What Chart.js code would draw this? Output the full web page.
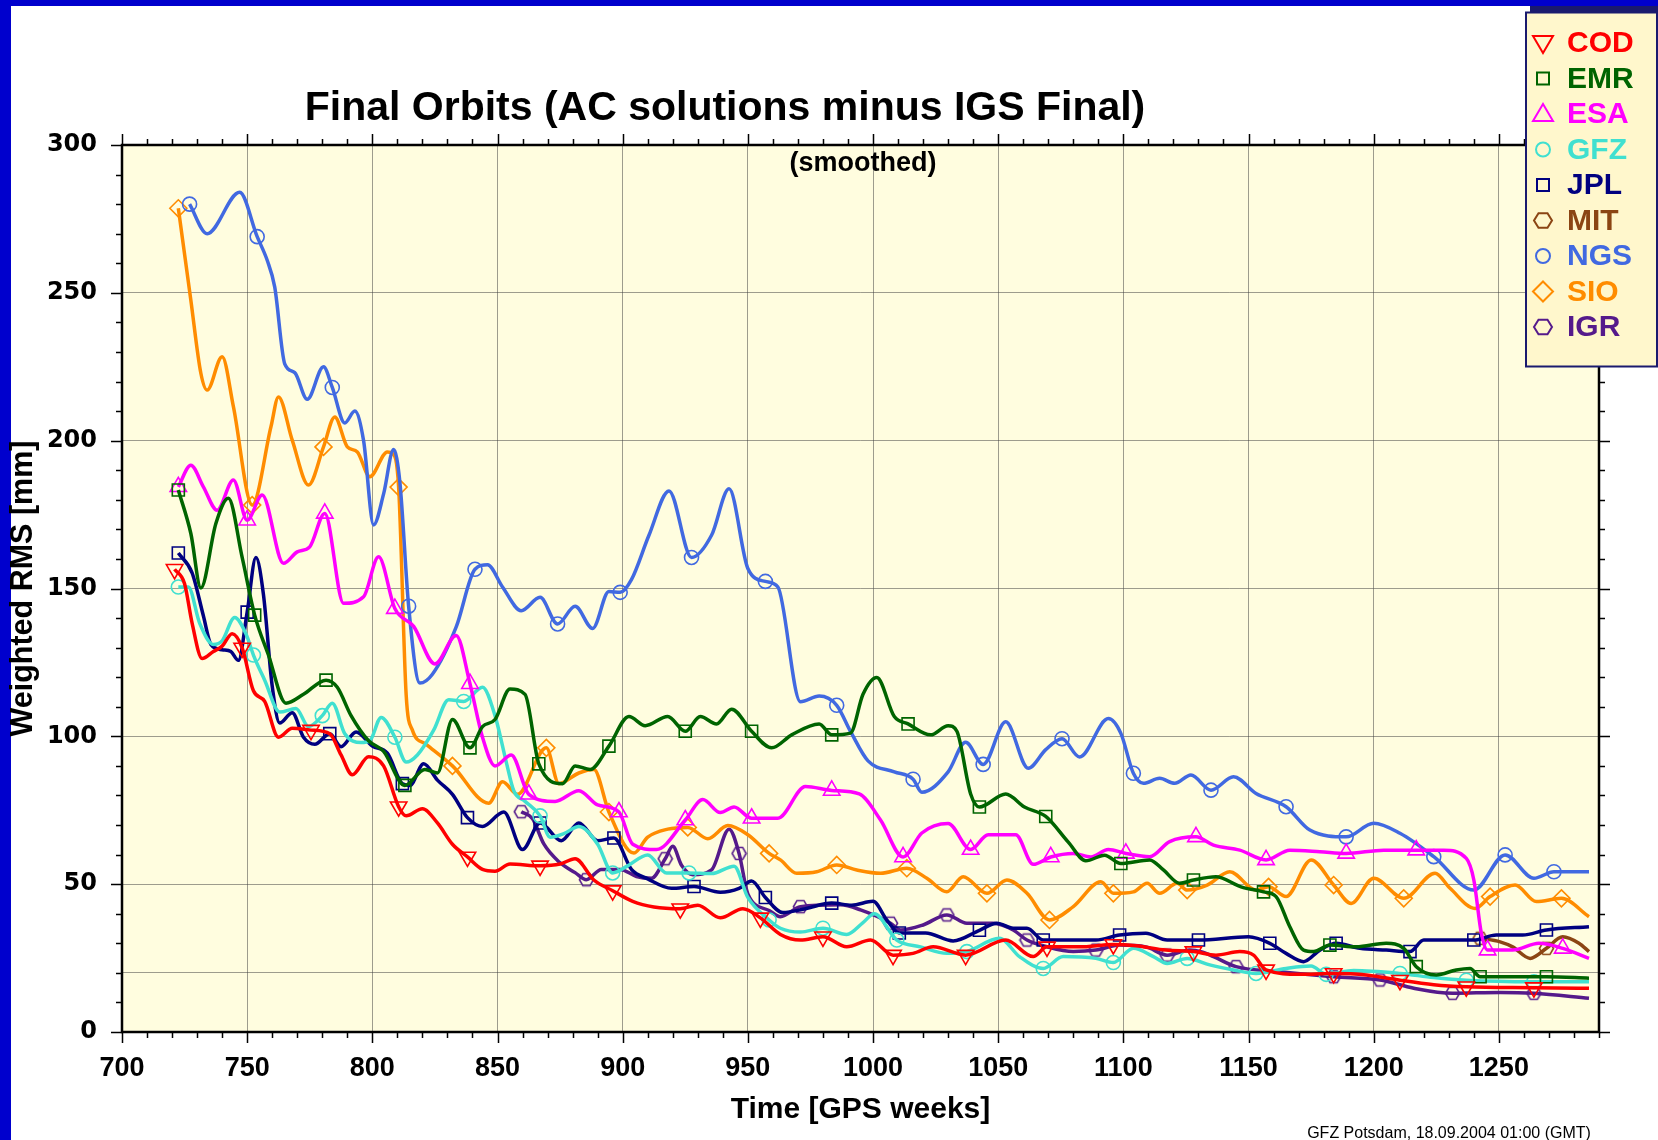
<!DOCTYPE html>
<html>
<head>
<meta charset="utf-8">
<title>Final Orbits (AC solutions minus IGS Final)</title>
<script src="https://cdn.jsdelivr.net/npm/chart.js@4.4.1/dist/chart.umd.min.js"></script>
<style>
html,body{margin:0;padding:0;background:#ffffff;overflow:hidden;}
#wrap{position:relative;width:1658px;height:1140px;}
</style>
</head>
<body>
<div id="wrap"><canvas id="chart"></canvas></div>
<script>
// ---- data: [GPS week, weighted RMS (mm)] ----
const COD = [[721,156.5],[725,151.6],[728,138.3],[732,126.3],[736.5,128.7],[740,130.5],[744,134.7],[748,129.9],[752.5,115.4],[757,111.8],[762.5,99.7],[768,102.7],[775.5,102.1],[783,100.9],[787.5,93.7],[792,87],[798.5,93.1],[804.5,90],[810.5,76.2],[813.5,73.1],[820,75.5],[826,70.7],[832,63.5],[838,59.2],[844,55],[849,54.4],[855,56.8],[867,56.2],[875,56.8],[881,58.6],[888.5,51.4],[896,47.8],[904,44.2],[912.5,42.3],[923,41.7],[930,42.9],[939,38.6],[948,41.7],[955,38.6],[963,33],[971,31.1],[980,32.2],[989.5,28.8],[999,31.1],[1008,26],[1016,26.6],[1024,28.8],[1037,26],[1053,31.1],[1064,25.5],[1069.5,28.8],[1082.5,28.8],[1096,29.6],[1105,29.2],[1117,27.7],[1128,27.2],[1137,26],[1146.5,27.2],[1152,26],[1157,21],[1170.5,19.5],[1184,19.8],[1197,19.3],[1210.5,17.5],[1224,16],[1237,15.3],[1264,15],[1286,14.8]];
const EMR = [[722.5,183.3],[727.5,168.6],[731.5,150.2],[737.5,172],[742.5,180.5],[748,160.5],[753,141],[758.5,127.5],[765.5,111.2],[772.5,114.2],[781.5,119],[786,116.6],[791.5,107],[798.5,98.5],[804.5,94.9],[813,83.4],[821,88.8],[826,87.6],[832,105.7],[839,96.1],[844,103.3],[849,105.7],[855,116],[861,114.2],[866.5,90.7],[876,84],[881,90],[887,88.8],[894.5,96.7],[902.5,106.7],[909,103.6],[918,106.7],[925,101.7],[931,106.7],[937.5,104.2],[943.5,109.2],[951.5,101.7],[959.5,96.1],[967.5,100.5],[978.5,104.2],[983.5,100.5],[991,101.1],[996,114.2],[1001.5,119.9],[1008.5,106.7],[1014,104.2],[1023,100.5],[1030,103.6],[1033.5,101.7],[1039,80.5],[1042.5,76.1],[1053,80.5],[1060.5,76.1],[1069,72.9],[1078,64.2],[1085,57.9],[1092.5,59.8],[1099,57],[1110.5,58.2],[1116,54.8],[1122.5,50.3],[1128,51.4],[1137,52.5],[1147,49.1],[1156,47.4],[1161,45.8],[1166.5,35.6],[1172,27.7],[1176,27.2],[1182.5,29.4],[1193,28.8],[1205,30],[1212,28.3],[1217,22.1],[1225,19.3],[1233,21],[1238.5,21.5],[1242.5,18.7],[1257,18.7],[1269,18.7],[1286,18.2]];
const ESA = [[722.5,184.4],[727.5,191.7],[732.5,184.4],[738,176.5],[744.5,186.7],[750,173.1],[756,181.6],[764.5,158.5],[770,162.4],[775,164.1],[781,175.4],[788.5,145],[796.5,147.2],[802.5,160.7],[809,143.2],[816.5,137.2],[825,124.5],[833.5,134.1],[839,117.8],[844,99.7],[849,90],[855.5,93.7],[862.5,80.4],[873,78],[882.5,81.6],[890,76.8],[898.5,74.4],[904,63.5],[913.5,61.7],[925,71.7],[932,78.6],[939,74.2],[944.5,76.1],[951.5,72.3],[962,72.3],[973,83],[983.5,81.7],[994.5,80.5],[1003,71.7],[1012,59.2],[1019.5,67.3],[1030,70.5],[1039,61.7],[1046,66.7],[1057,66.7],[1064,56.7],[1071,59.2],[1080,60.4],[1087,59.2],[1094,61.7],[1101,60.4],[1110.5,59.3],[1118.5,64.4],[1129,66],[1136,63.2],[1146.5,61.5],[1157,58.2],[1166.5,61.5],[1178.5,61],[1189,60.4],[1204,61.5],[1217,61.5],[1228,61.5],[1237,58.7],[1240,51.4],[1243,33.4],[1245.5,27.7],[1255.5,27.7],[1266,30],[1275.5,28.3],[1286,24.9]];
const GFZ = [[722.5,150.5],[726.5,150.5],[731,138.3],[736.5,131.1],[740,132.3],[745,140.2],[749.5,134.7],[752.5,127.5],[757,119],[763,108.2],[769.5,109.4],[774.5,103.3],[780,107],[784,111.2],[789,100.9],[795.5,97.9],[799,98.5],[803.5,106.4],[809,99.7],[813.5,91.3],[818,93.7],[824.5,102.1],[830.5,112.4],[836.5,111.8],[844,116.6],[849,107],[853.5,91.3],[856.5,81.6],[861,78],[867,73.1],[871,65.9],[876.5,67.1],[882.5,69.5],[890,63.5],[896,53.8],[902,56.2],[910,59.9],[917.5,53.8],[926.5,53.8],[935.5,53.6],[944.5,56.1],[950,45.5],[958.5,37.9],[963,35.1],[971,33.8],[980,35.1],[989.5,33],[996,37],[1000.5,40],[1009.5,31.1],[1019,28.8],[1029.5,26.6],[1037.5,27.2],[1050.5,31.7],[1058.5,25.5],[1068,21.5],[1076,25.5],[1089,24.9],[1096,23.5],[1104,28.3],[1112,25.5],[1117.5,23.2],[1125.5,24.9],[1134.5,22.7],[1144,21],[1153,19.8],[1165,21.5],[1175,22.3],[1181,19.5],[1192,20.8],[1210.5,19.8],[1224,18.4],[1237,17.5],[1264,17],[1286,17]];
const JPL = [[722.5,162],[728,155.3],[732.5,140.8],[735.5,131.1],[740,129.3],[743.5,128.7],[746.5,125.7],[750,142],[753.5,160.5],[756.5,148],[760,117],[763,104.5],[768,108],[772.5,99.7],[777,97.3],[783,100.9],[787.5,96.5],[793.5,101.5],[800,96.7],[806,94.3],[812,84],[815,83.4],[820.5,90.7],[826,85.2],[832,80.4],[838,72.5],[844,69.5],[852.5,74.4],[860,61.7],[867,70.7],[875.5,64.7],[882.5,70.7],[890,64.7],[896.5,65.6],[903.5,55],[910,51.8],[919.5,48.6],[928.5,49.2],[939,47.3],[946.5,48.6],[951.5,51.1],[957,45.5],[964,40.4],[973,41.7],[983.5,43.6],[991.5,42.9],[1000,44.2],[1005.5,37.9],[1010.5,33.5],[1021,33.5],[1032,30.8],[1042.5,34.4],[1049.5,36.8],[1056,35.1],[1061.5,35.1],[1068,31.1],[1080,31.1],[1089,31.1],[1098.5,32.8],[1109,33.4],[1117.5,31.1],[1130,31.1],[1150,32.2],[1158.5,30],[1165,26.6],[1172,23.8],[1178.5,27.7],[1185,30],[1194.5,28.3],[1205,27.7],[1214.5,27.2],[1220,31.1],[1229,31.1],[1240,31.1],[1249,32.8],[1259.5,32.8],[1269,34.5],[1286,35.6]];
const MIT = [[1242.5,31.7],[1250.5,30.5],[1255.5,28.8],[1262.5,24.9],[1269,28.3],[1275.5,32.2],[1282,30],[1286,27.2]];
const NGS = [[727,280],[734,270],[747,284],[754,269],[758,261],[761,252],[765,226],[769,223],[774,214],[780.5,225],[784,218],[789,206],[793,210],[796.5,200],[800.5,171.5],[804.5,182],[808.5,197],[811,186],[814.5,144],[819,118],[824,121],[833.5,137],[841,156.5],[846,158],[852,150.5],[859.5,142.5],[867,147],[874,138],[881,144],[888,136.5],[894.5,149],[899,148.7],[903.5,153],[910.5,168],[918.5,183],[927.5,160.5],[935.5,168],[942.5,183.7],[950,156.8],[957,152.4],[962,150.5],[971,111.7],[978.5,113.6],[985.5,110.5],[991,101.7],[998,91.7],[1008.5,88],[1016,85.5],[1019.5,81.1],[1030,88],[1037,98],[1044,90.5],[1053,104.9],[1062,89.2],[1069,95.5],[1075.5,99.2],[1082.5,93],[1094,106],[1099,101],[1104,87.5],[1108,84.1],[1114.5,85.8],[1120.5,84.1],[1127,86.9],[1135,81.8],[1144,86.3],[1153,80.7],[1165,76.2],[1174.5,68.3],[1189,66],[1200,70.6],[1210.5,67.2],[1224,59.3],[1240,48],[1252.5,59.9],[1264,52],[1272,54.2],[1286,54.2]];
const SIO = [[722.5,278.6],[727.5,247.5],[731.5,222.8],[734,217.1],[740,228.4],[744.5,211.5],[752,178.2],[759.5,204.7],[762.5,214.8],[768,200.2],[774.5,185],[780.5,197.9],[785,208],[790,197.9],[794,196.2],[799,187.8],[806,196.2],[808,195.7],[810.5,184.3],[813.5,114.2],[816,102.1],[821.5,97.3],[832,90],[846.5,77.4],[852,84.6],[858,80.4],[869.5,96.1],[874.5,84],[882.5,87.6],[888.5,88.8],[894.5,74.4],[904.5,60.5],[910,65.9],[918,68.6],[926,69.2],[934,65.4],[942,69.8],[950,66.7],[958.5,60.4],[963,58.2],[969.5,53.7],[977.5,54.2],[985.5,56.5],[993.5,54.8],[1003,53.7],[1013.5,55.4],[1021.5,52],[1029.5,47.4],[1036,52.5],[1045.5,46.9],[1053.5,51.4],[1061.5,46.9],[1070.5,37.9],[1080,42.4],[1091,50.8],[1096,46.9],[1104,47.4],[1109.5,50.3],[1114.5,46.9],[1121.5,50.3],[1125.5,48],[1133.5,49.7],[1142.5,54.2],[1153,48],[1158,49.1],[1165,45.8],[1175,58.2],[1184,49.7],[1191,43.5],[1200,52],[1212,45.2],[1224.5,53.7],[1230.5,48.6],[1240.5,41.8],[1246.5,45.8],[1256.5,49.7],[1265,44.1],[1275,45.2],[1286,39]];
const IGR = [[859.5,74.5],[864,72.1],[868.5,63.6],[874.5,57.6],[881,53.9],[885.5,51.5],[891.5,55],[899,55],[905.5,52.6],[911.5,52],[917,58.6],[920,62.8],[923.5,56.4],[928,53.2],[935.5,54.8],[942.5,68.6],[946.5,60.4],[950,46.7],[958.5,41.1],[963,39],[971,42.4],[987,43],[995,41.3],[1007,36.8],[1011,34.5],[1020,36.2],[1029.5,39.6],[1037.5,36.8],[1048,36.8],[1056,34.5],[1061.5,31.1],[1069.5,28.8],[1080,27.2],[1089,27.7],[1098.5,29.4],[1109,28.8],[1117.5,26],[1126.5,27.7],[1131,27.2],[1136,25.5],[1145,22.1],[1162.5,20.4],[1184,18.7],[1202.5,17.6],[1216,14.8],[1231.5,13.1],[1250.5,13.4],[1264,13.1],[1286,11.4]];

const seriesNames = ['COD','EMR','ESA','GFZ','JPL','MIT','NGS','SIO','IGR'];
const seriesData = {COD, EMR, ESA, GFZ, JPL, MIT, NGS, SIO, IGR};
const xTickValues = [700,750,800,850,900,950,1000,1050,1100,1150,1200,1250];
const yTickValues = [0,20,50,100,150,200,250,300];
const xRange = [700,1290];
const yRange = [0,300];

// ---- styling (kept apart from data) ----
const look = {
  COD:{color:'#FF0000', shape:'triDown'},
  EMR:{color:'#006400', shape:'square'},
  ESA:{color:'#FF00FF', shape:'triUp'},
  GFZ:{color:'#40E0D0', shape:'circle'},
  JPL:{color:'#000080', shape:'square'},
  MIT:{color:'#8B4513', shape:'hex'},
  NGS:{color:'#4169E1', shape:'circle'},
  SIO:{color:'#FF8C00', shape:'diamond'},
  IGR:{color:'#551A8B', shape:'hex'}
};
const SANS = '"Liberation Sans", Arial, Helvetica, sans-serif';
const WIDE = '"DejaVu Sans", Verdana, sans-serif';

function hexImage(color, size){
  const c = document.createElement('canvas');
  c.width = size; c.height = size;
  const g = c.getContext('2d');
  g.strokeStyle = color; g.lineWidth = 1.6;
  g.beginPath();
  const R = size/2 - 1.5;
  for (let i=0;i<6;i++){
    const a = Math.PI/3*i;
    const px = size/2 + R*Math.cos(a), py = size/2 + R*Math.sin(a);
    if (i) g.lineTo(px,py); else g.moveTo(px,py);
  }
  g.closePath(); g.stroke();
  return c;
}

function markerIndices(pts, step){
  const set = new Set();
  const first = pts[0][0], last = pts[pts.length-1][0];
  for (let t=first; t<=last+1; t+=step){
    let best=0, bd=Infinity;
    pts.forEach((p,i)=>{ const d=Math.abs(p[0]-t); if(d<bd){bd=d;best=i;} });
    set.add(best);
  }
  return set;
}

function pointOpts(name){
  const lk = look[name];
  switch(lk.shape){
    case 'triDown': return {style:'triangle', rot:180, r:9.5};
    case 'triUp': return {style:'triangle', rot:0, r:9.5};
    case 'square': return {style:'rect', rot:0, r:8.5};
    case 'circle': return {style:'circle', rot:0, r:7};
    case 'diamond': return {style:'rectRot', rot:0, r:8.5};
    case 'hex': return {style:hexImage(lk.color,17), rot:0, r:8};
  }
}

const datasets = seriesNames.map(name=>{
  const lk = look[name];
  const po = pointOpts(name);
  const marks = markerIndices(seriesData[name], 29);
  return {
    label: name,
    data: seriesData[name].map(([x,y])=>({x,y})),
    borderColor: lk.color,
    backgroundColor: lk.color,
    borderWidth: 3.5,
    cubicInterpolationMode: 'monotone',
    fill: false,
    pointStyle: po.style,
    pointRotation: po.rot,
    pointBorderColor: lk.color,
    pointBackgroundColor: 'rgba(0,0,0,0)',
    pointBorderWidth: 1.6,
    pointRadius: ctx => marks.has(ctx.dataIndex) ? po.r : 0,
    pointHoverRadius: 0
  };
});

function legendMarker(g, shape, x, y, color){
  g.save();
  g.strokeStyle = color; g.lineWidth = 2;
  g.beginPath();
  if (shape==='triDown'){ g.moveTo(x-10,y-7); g.lineTo(x+10,y-7); g.lineTo(x,y+10); g.closePath(); }
  else if (shape==='triUp'){ g.moveTo(x-10,y+7); g.lineTo(x+10,y+7); g.lineTo(x,y-10); g.closePath(); }
  else if (shape==='square'){ g.rect(x-6,y-6,12,12); }
  else if (shape==='circle'){ g.arc(x,y,7,0,Math.PI*2); }
  else if (shape==='diamond'){ g.moveTo(x-10,y); g.lineTo(x,y-10); g.lineTo(x+10,y); g.lineTo(x,y+10); g.closePath(); }
  else if (shape==='hex'){ for(let i=0;i<6;i++){const a=Math.PI/3*i; const px=x+9*Math.cos(a), py=y+8.5*Math.sin(a); if(i) g.lineTo(px,py); else g.moveTo(px,py);} g.closePath(); }
  g.stroke();
  g.restore();
}

const decor = {
  id: 'decor',
  beforeDraw(chart){
    const {ctx, chartArea:a, width, height} = chart;
    ctx.save();
    ctx.fillStyle = '#ffffff'; ctx.fillRect(0,0,width,height);
    ctx.fillStyle = '#0000CD'; ctx.fillRect(0,0,width,6); ctx.fillRect(0,0,11,height);
    ctx.fillStyle = '#FFFDDF'; ctx.fillRect(a.left,a.top,a.right-a.left,a.bottom-a.top);
    ctx.restore();
  },
  afterDraw(chart){
    const {ctx, chartArea:a} = chart;
    const xs = chart.scales.x, ys = chart.scales.y;
    ctx.save();
    // frame
    ctx.strokeStyle = '#000'; ctx.lineWidth = 2.5;
    ctx.strokeRect(a.left, a.top, a.right-a.left, a.bottom-a.top);
    // tick marks
    ctx.lineWidth = 1.5;
    ctx.beginPath();
    for (let v=xRange[0]; v<=xRange[1]; v+=10){
      const px = Math.round(xs.getPixelForValue(v))+0.5;
      const len = (v%50===0) ? 11 : 6;
      ctx.moveTo(px, a.bottom); ctx.lineTo(px, a.bottom+len);
      ctx.moveTo(px, a.top); ctx.lineTo(px, a.top-len);
    }
    for (let v=yRange[0]; v<=yRange[1]; v+=10){
      const py = Math.round(ys.getPixelForValue(v))+0.5;
      const len = (v%50===0) ? 11 : 6;
      ctx.moveTo(a.left, py); ctx.lineTo(a.left-len, py);
      ctx.moveTo(a.right, py); ctx.lineTo(a.right+len, py);
    }
    ctx.stroke();
    // title
    ctx.fillStyle = '#000';
    ctx.textAlign = 'center'; ctx.textBaseline = 'middle';
    ctx.font = 'bold 41px ' + SANS;
    ctx.fillText('Final Orbits (AC solutions minus IGS Final)', 725, 109);
    ctx.font = 'bold 27px ' + SANS;
    ctx.fillText('(smoothed)', 863, 164);
    ctx.font = '16px ' + SANS;
    ctx.fillText('GFZ Potsdam, 18.09.2004 01:00 (GMT)', 1449, 1134);
    // legend box
    ctx.fillStyle = '#1a1a6e'; ctx.fillRect(1530,6,128,7);
    ctx.fillStyle = '#FFF7CC'; ctx.fillRect(1525,12,132,355);
    ctx.strokeStyle = '#1a1a6e'; ctx.lineWidth = 2; ctx.strokeRect(1526,12.5,131,354);
    ctx.textAlign = 'left'; ctx.textBaseline = 'middle';
    ctx.font = 'bold 30px ' + SANS;
    seriesNames.forEach((name,i)=>{
      const y = 43 + i*35.5;
      legendMarker(ctx, look[name].shape, 1543, y, look[name].color);
      ctx.fillStyle = look[name].color;
      ctx.fillText(name, 1567, y+1);
    });
    ctx.restore();
  }
};

new Chart(document.getElementById('chart'), {
  type: 'line',
  data: { datasets },
  options: {
    responsive: true,
    maintainAspectRatio: false,
    animation: false,
    events: [],
    layout: { padding: { left: 0, right: 59, top: 145, bottom: 0 } },
    plugins: { legend: { display: false }, title: { display: false }, tooltip: { enabled: false } },
    scales: {
      x: {
        type: 'linear', min: xRange[0], max: xRange[1],
        afterBuildTicks: s => { s.ticks = xTickValues.map(v=>({value:v})); },
        afterFit: s => { s.height = 108; },
        grid: { color: 'rgba(60,60,60,0.5)', lineWidth: 1, drawTicks: false },
        border: { display: false },
        ticks: { padding: 20, color: '#000', maxRotation: 0, autoSkip: false,
                 font: { family: SANS, size: 27, weight: 'bold' }, callback: v => String(v) },
        title: { display: true, text: 'Time [GPS weeks]', color: '#000',
                 font: { family: SANS, size: 30, weight: 'bold' }, padding: { top: 0, bottom: 12 } }
      },
      y: {
        type: 'linear', min: yRange[0], max: yRange[1],
        afterBuildTicks: s => { s.ticks = yTickValues.map(v=>({value:v})); },
        afterFit: s => { s.width = 122; },
        grid: { color: 'rgba(60,60,60,0.5)', lineWidth: 1, drawTicks: false },
        border: { display: false },
        ticks: { padding: 25, color: '#000', autoSkip: false,
                 font: { family: WIDE, size: 24, weight: 'bold' }, callback: v => (v%50===0 ? String(v) : '') },
        title: { display: true, text: 'Weighted RMS [mm]', color: '#000',
                 font: { family: SANS, size: 30.5, weight: 'bold' }, padding: { top: 5, bottom: 0 } }
      }
    }
  },
  plugins: [decor]
});
</script>
</body>
</html>
